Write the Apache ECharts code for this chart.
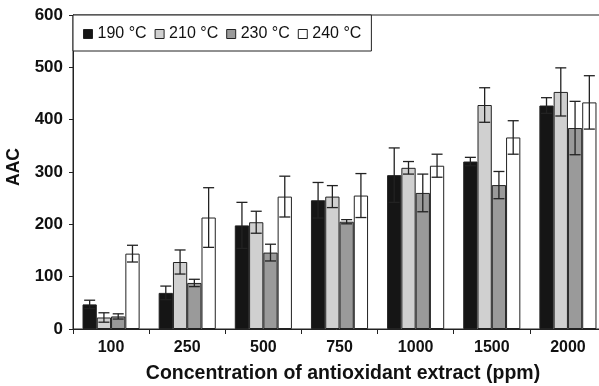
<!DOCTYPE html>
<html>
<head>
<meta charset="utf-8">
<script src="https://cdn.jsdelivr.net/npm/echarts@6/dist/echarts.min.js"></script>
<style>
html,body{margin:0;padding:0;background:#fff;}
#chart{width:599px;height:386px;}
</style>
</head>
<body>
<div id="chart"></div>
<script>
const categories = ['100', '250', '500', '750', '1000', '1500', '2000'];
const seriesNames = ['190 °C', '210 °C', '230 °C', '240 °C'];
const aac190 = [47, 69, 198, 246, 294, 320, 427];
const err190 = [8, 13, 44, 34, 52, 8, 15];
const aac210 = [22, 128, 204, 253, 308, 428, 453];
const err210 = [9, 23, 21, 21, 12, 33, 46];
const aac230 = [24, 88, 146, 205, 260, 275, 384];
const err230 = [5, 7, 16, 4, 36, 26, 51];
const aac240 = [144, 213, 253, 255, 312, 366, 433];
const err240 = [16, 57, 39, 42, 22, 32, 51];
const yTicks = [0, 100, 200, 300, 400, 500, 600];

const values = [aac190, aac210, aac230, aac240];
const errors = [err190, err210, err230, err240];
const colors = ['#151515', '#d0d0d0', '#9a9a9a', '#ffffff'];
const FONT = '"Liberation Sans", Arial, Helvetica, sans-serif';
const NSER = 4;
const CAT_GAP = 0.25;

const chart = echarts.init(document.getElementById('chart'), null, {renderer: 'canvas'});

const series = [];
values.forEach((vals, k) => {
  series.push({
    name: seriesNames[k],
    type: 'bar',
    data: vals,
    barGap: '0%',
    barCategoryGap: (CAT_GAP * 100) + '%',
    itemStyle: {color: colors[k], borderColor: '#222', borderWidth: 1},
    emphasis: {disabled: true},
    z: 2
  });
});
values.forEach((vals, k) => {
  series.push({
    name: seriesNames[k] + ' err',
    type: 'custom',
    data: vals.map((v, i) => [i, v, errors[k][i]]),
    encode: {x: 0, y: 1},
    z: 5,
    silent: true,
    renderItem: function (params, api) {
      const idx = api.value(0);
      const v = api.value(1);
      const e = api.value(2);
      const band = api.size([1, 0])[0];
      const bw = band * (1 - CAT_GAP) / NSER;
      const cx = api.coord([idx, 0])[0] - band * (1 - CAT_GAP) / 2 + bw * (k + 0.5);
      const yTop = api.coord([idx, v + e])[1];
      const yBot = api.coord([idx, Math.max(0, v - e)])[1];
      const hw = 5.5;
      const style = {stroke: '#222', lineWidth: 1.3};
      return {
        type: 'group',
        children: [
          {type: 'line', shape: {x1: cx, y1: yTop, x2: cx, y2: yBot}, style: style},
          {type: 'line', shape: {x1: cx - hw, y1: yTop, x2: cx + hw, y2: yTop}, style: style},
          {type: 'line', shape: {x1: cx - hw, y1: yBot, x2: cx + hw, y2: yBot}, style: style}
        ]
      };
    }
  });
});

chart.setOption({
  animation: false,
  backgroundColor: '#fff',
  grid: {
    left: 73, top: 15, width: 533, bottom: 57,
    containLabel: false,
    outerBoundsMode: 'none',
    show: true, borderColor: '#222', borderWidth: 1, backgroundColor: 'transparent'
  },
  legend: {
    data: seriesNames,
    left: 73, top: 15,
    orient: 'horizontal',
    backgroundColor: '#fff',
    borderColor: '#222',
    borderWidth: 1,
    borderRadius: 0,
    padding: [11, 10, 9, 10],
    itemWidth: 9, itemHeight: 9, itemGap: 8,
    icon: 'rect',
    itemStyle: {borderColor: '#222', borderWidth: 1},
    textStyle: {fontFamily: FONT, fontSize: 16, color: '#111', padding: [0, 0, 0, 0]},
    selectedMode: false
  },
  xAxis: {
    type: 'category',
    data: categories,
    boundaryGap: true,
    name: 'Concentration of antioxidant extract (ppm)',
    nameLocation: 'middle',
    nameGap: 35,
    nameTextStyle: {fontFamily: FONT, fontSize: 19.5, fontWeight: 'bold', color: '#111', padding: [0, 0, 0, 7]},
    axisLine: {lineStyle: {color: '#222', width: 1}},
    axisTick: {show: true, length: 5, lineStyle: {color: '#222'}},
    axisLabel: {fontFamily: FONT, fontSize: 16, fontWeight: 'bold', color: '#111', margin: 11},
    splitLine: {show: false}
  },
  yAxis: {
    type: 'value',
    min: yTicks[0], max: yTicks[yTicks.length - 1], interval: 100,
    name: 'AAC',
    nameLocation: 'middle',
    nameGap: 50,
    nameRotate: 90,
    nameTextStyle: {fontFamily: FONT, fontSize: 17.5, fontWeight: 'bold', color: '#111', padding: [0, 0, 0, 10]},
    axisLine: {show: true, lineStyle: {color: '#222', width: 1}},
    axisTick: {show: true, length: 4, lineStyle: {color: '#222'}},
    axisLabel: {fontFamily: FONT, fontSize: 17, fontWeight: 'bold', color: '#111', margin: 10},
    splitLine: {show: false}
  },
  series: series
});
</script>
</body>
</html>
